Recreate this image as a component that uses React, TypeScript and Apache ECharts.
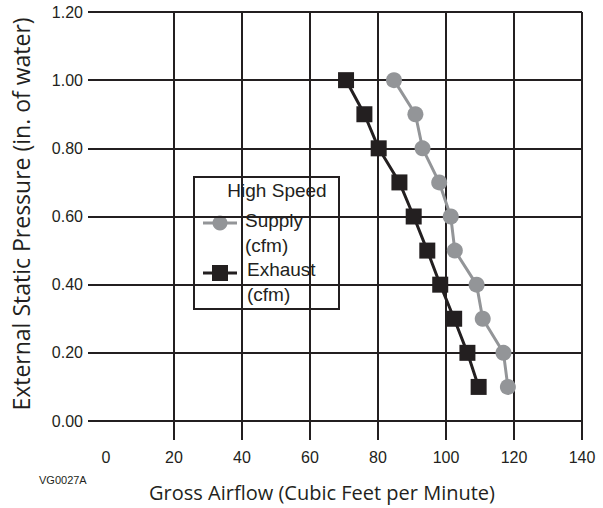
import React, { useEffect, useRef } from "react";
import * as echarts from "echarts";

const pressure = [1.0, 0.9, 0.8, 0.7, 0.6, 0.5, 0.4, 0.3, 0.2, 0.1];
const supplyCfm = [84.7, 91, 93.1, 98, 101.4, 102.6, 109, 110.8, 116.9, 118.2];
const exhaustCfm = [70.6, 76, 80.2, 86.3, 90.5, 94.5, 98.3, 102.4, 106.3, 109.6];
const xTicks = [0, 20, 40, 60, 80, 100, 120, 140];
const yTicks = [0, 0.2, 0.4, 0.6, 0.8, 1.0, 1.2];

const BLACK = "#231f20";
const GREY = "#939598";

export default function App() {
  const ref = useRef<HTMLDivElement>(null);
  useEffect(() => {
    if (!ref.current) return;
    const chart = echarts.init(ref.current, null, { renderer: "svg" });
    const tickFont = { fontFamily: "Liberation Sans", fontSize: 16, color: BLACK };
    const legendFont = { fontFamily: "Liberation Sans", fontSize: 19, fill: BLACK, verticalAlign: "middle" };
    chart.setOption({
      animation: false,
      backgroundColor: "#fff",
      grid: { left: 106, right: 21, top: 12, bottom: 87 },
      xAxis: {
        type: "value",
        min: xTicks[0],
        max: xTicks[xTicks.length - 1],
        interval: 20,
        axisLine: { show: true, lineStyle: { color: BLACK, width: 2 } },
        axisTick: { show: true, length: 19, customValues: xTicks.slice(1), lineStyle: { color: BLACK, width: 2 } },
        splitLine: { show: true, lineStyle: { color: BLACK, width: 2 } },
        axisLabel: { ...tickFont, margin: 28, formatter: (v: number) => String(v) },
      },
      yAxis: {
        type: "value",
        min: yTicks[0],
        max: yTicks[yTicks.length - 1],
        interval: 0.2,
        axisLine: { show: false },
        axisTick: { show: true, length: 18, lineStyle: { color: BLACK, width: 2 } },
        splitLine: { show: true, lineStyle: { color: BLACK, width: 2 } },
        axisLabel: { ...tickFont, margin: 23, formatter: (v: number) => v.toFixed(2) },
      },
      series: [
        {
          name: "Supply (cfm)",
          type: "line",
          data: supplyCfm.map((x, i) => [x, pressure[i]]),
          symbol: "circle",
          symbolSize: 16,
          lineStyle: { color: GREY, width: 3 },
          itemStyle: { color: GREY },
          z: 3,
        },
        {
          name: "Exhaust (cfm)",
          type: "line",
          data: exhaustCfm.map((x, i) => [x, pressure[i]]),
          symbol: "rect",
          symbolSize: 16,
          lineStyle: { color: BLACK, width: 3 },
          itemStyle: { color: BLACK },
          z: 3,
        },
      ],
      graphic: [
        {
          type: "text",
          x: 21,
          y: 214,
          rotation: Math.PI / 2,
          style: {
            text: "External Static Pressure (in. of water)",
            fontFamily: "Open Sans",
            fontSize: 23,
            fill: BLACK,
            align: "center",
            verticalAlign: "middle",
          },
        },
        {
          type: "text",
          x: 322,
          y: 492,
          style: {
            text: "Gross Airflow (Cubic Feet per Minute)",
            fontFamily: "Open Sans",
            fontSize: 20,
            fill: BLACK,
            align: "center",
            verticalAlign: "middle",
          },
        },
        {
          type: "text",
          x: 39,
          y: 480,
          style: {
            text: "VG0027A",
            fontFamily: "Liberation Sans",
            fontSize: 11,
            fill: BLACK,
            align: "left",
            verticalAlign: "middle",
          },
        },
        {
          type: "group",
          z: 10,
          children: [
            {
              type: "rect",
              shape: { x: 194, y: 177, width: 145, height: 132 },
              style: { fill: "#fff", stroke: BLACK, lineWidth: 2 },
            },
            { type: "text", x: 277, y: 190, style: { ...legendFont, text: "High Speed", align: "center" } },
            {
              type: "line",
              shape: { x1: 203, y1: 223, x2: 237, y2: 223 },
              style: { stroke: GREY, lineWidth: 3 },
            },
            { type: "circle", shape: { cx: 220, cy: 223, r: 7.5 }, style: { fill: GREY } },
            { type: "text", x: 245, y: 220, style: { ...legendFont, text: "Supply", align: "left" } },
            { type: "text", x: 245, y: 245, style: { ...legendFont, text: "(cfm)", align: "left" } },
            {
              type: "line",
              shape: { x1: 203, y1: 273, x2: 237, y2: 273 },
              style: { stroke: BLACK, lineWidth: 3 },
            },
            { type: "rect", shape: { x: 212, y: 265, width: 16, height: 16 }, style: { fill: BLACK } },
            { type: "text", x: 247, y: 269, style: { ...legendFont, text: "Exhaust", align: "left" } },
            { type: "text", x: 247, y: 294, style: { ...legendFont, text: "(cfm)", align: "left" } },
          ],
        },
      ],
    });
    return () => chart.dispose();
  }, []);
  return <div ref={ref} style={{ width: 603, height: 508, position: "absolute", left: 0, top: 0 }} />;
}
